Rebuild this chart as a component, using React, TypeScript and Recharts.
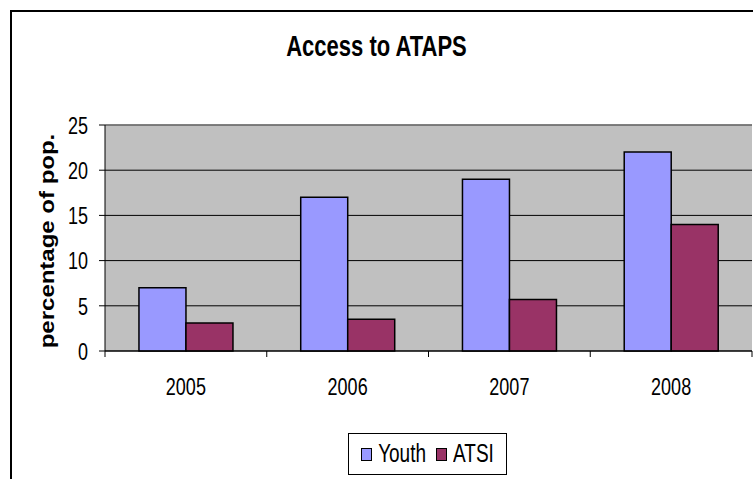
import React from "react";
import {
  BarChart,
  Bar,
  XAxis,
  YAxis,
  CartesianGrid,
  Legend,
  ReferenceLine,
} from "recharts";

const years = ["2005", "2006", "2007", "2008"];
const youth = [7, 17, 19, 22];
const atsi = [3.1, 3.5, 5.7, 14];
const yTicks = [0, 5, 10, 15, 20, 25];
const seriesOrder = ["Youth", "ATSI"];

const data = years.map((year, i) => ({ year, Youth: youth[i], ATSI: atsi[i] }));

const FONT = "'Liberation Sans', Arial, sans-serif";
// the source image is stretched vertically, so every text is drawn a bit taller
const STRETCH = 1.35;

// Excel-style category axis: tick marks sit on the borders between categories
function YearTick(props: any) {
  const { x, y, payload, index, visibleTicksCount } = props;
  const half = payload.offset || 0;
  const last = index === (visibleTicksCount ?? years.length) - 1;
  return (
    <g>
      <line x1={x - half} y1={y} x2={x - half} y2={y + 6} stroke="#000" />
      {last && <line x1={x + half} y1={y} x2={x + half} y2={y + 6} stroke="#000" />}
      <g transform={`translate(${x},${y + 35}) scale(1,${STRETCH})`}>
        <text x={0} y={0} dy="0.36em" textAnchor="middle" fontSize={18} fill="#000" fontFamily={FONT}>
          {payload.value}
        </text>
      </g>
    </g>
  );
}

function ValueTick(props: any) {
  const { x, y, payload } = props;
  return (
    <g transform={`translate(${x},${y}) scale(1,${STRETCH})`}>
      <text x={0} y={0} dy="0.36em" textAnchor="end" fontSize={18} fill="#000" fontFamily={FONT}>
        {payload.value}
      </text>
    </g>
  );
}

function AxisTitle(props: any) {
  const vb = props.viewBox || { x: 45, y: 125, height: 226 };
  return (
    <g transform={`translate(${vb.x + 2},${vb.y + vb.height / 2 + 3}) rotate(-90) scale(1.2,1)`}>
      <text x={0} y={0} dy="0.36em" textAnchor="middle" fontSize={20} fontWeight="bold" fill="#000" fontFamily={FONT}>
        percentage of pop.
      </text>
    </g>
  );
}

function LegendBox(props: any) {
  const items = [...(props.payload || [])].sort(
    (a: any, b: any) => seriesOrder.indexOf(a.value) - seriesOrder.indexOf(b.value)
  );
  return (
    <div
      style={{
        border: "1px solid #000",
        background: "#fff",
        height: "100%",
        boxSizing: "border-box",
        display: "flex",
        alignItems: "center",
        justifyContent: "center",
        gap: 10,
        fontFamily: FONT,
        fontSize: 19,
        color: "#000",
      }}
    >
      {items.map((p: any) => (
        <span key={p.value} style={{ display: "flex", alignItems: "center", gap: 6 }}>
          <span
            style={{
              width: 9,
              height: 11,
              background: p.color,
              border: "1.5px solid #000",
              display: "inline-block",
            }}
          />
          <span style={{ display: "inline-block", transform: `scaleY(${STRETCH})` }}>{p.value}</span>
        </span>
      ))}
    </div>
  );
}

export default function App() {
  return (
    <div
      style={{
        position: "absolute",
        left: 0,
        top: 0,
        width: 753,
        height: 479,
        overflow: "hidden",
        background: "#fff",
        fontFamily: FONT,
      }}
    >
      <div
        style={{
          position: "absolute",
          left: 10,
          top: 10,
          width: 780,
          height: 500,
          border: "2px solid #000",
        }}
      />
      <div
        style={{
          position: "absolute",
          left: 0,
          width: 753,
          top: 34,
          height: 26,
          lineHeight: "26px",
          textAlign: "center",
          fontWeight: "bold",
          fontSize: 22,
          color: "#000",
          transform: `scaleY(${STRETCH})`,
        }}
      >
        Access to ATAPS
      </div>
      <div style={{ position: "absolute", left: 0, top: 0 }}>
        <BarChart
          width={753}
          height={479}
          data={data}
          margin={{ top: 125, right: 1, bottom: 98, left: 45 }}
          barCategoryGap="21%"
          barGap={0}
        >
          <CartesianGrid
            vertical={false}
            stroke="#000"
            fill="#C0C0C0"
            fillOpacity={1}
          />
          <XAxis
            dataKey="year"
            height={30}
            interval={0}
            tickLine={false}
            tickSize={0}
            tickMargin={0}
            axisLine={{ stroke: "#000" }}
            tick={<YearTick />}
          />
          <YAxis
            domain={[0, 25]}
            ticks={yTicks}
            interval={0}
            width={60}
            tickSize={6}
            tickMargin={11}
            axisLine={{ stroke: "#000" }}
            tickLine={{ stroke: "#000" }}
            tick={<ValueTick />}
            label={{ content: <AxisTitle />, position: "insideLeft" }}
          />
          <YAxis
            yAxisId="right"
            orientation="right"
            width={0}
            tick={false}
            tickLine={false}
            axisLine={{ stroke: "#808080", strokeWidth: 1.5 }}
          />
          <ReferenceLine y={25} stroke="#808080" strokeWidth={1.5} />
          <Bar
            dataKey="Youth"
            fill="#9999FF"
            stroke="#000"
            strokeWidth={1.5}
            isAnimationActive={false}
          />
          <Bar
            dataKey="ATSI"
            fill="#993366"
            stroke="#000"
            strokeWidth={1.5}
            isAnimationActive={false}
          />
          <Legend
            layout="vertical"
            align="center"
            verticalAlign="middle"
            content={<LegendBox />}
            wrapperStyle={{ position: "absolute", left: 348, top: 433, width: 159, height: 42 }}
          />
        </BarChart>
      </div>
    </div>
  );
}
